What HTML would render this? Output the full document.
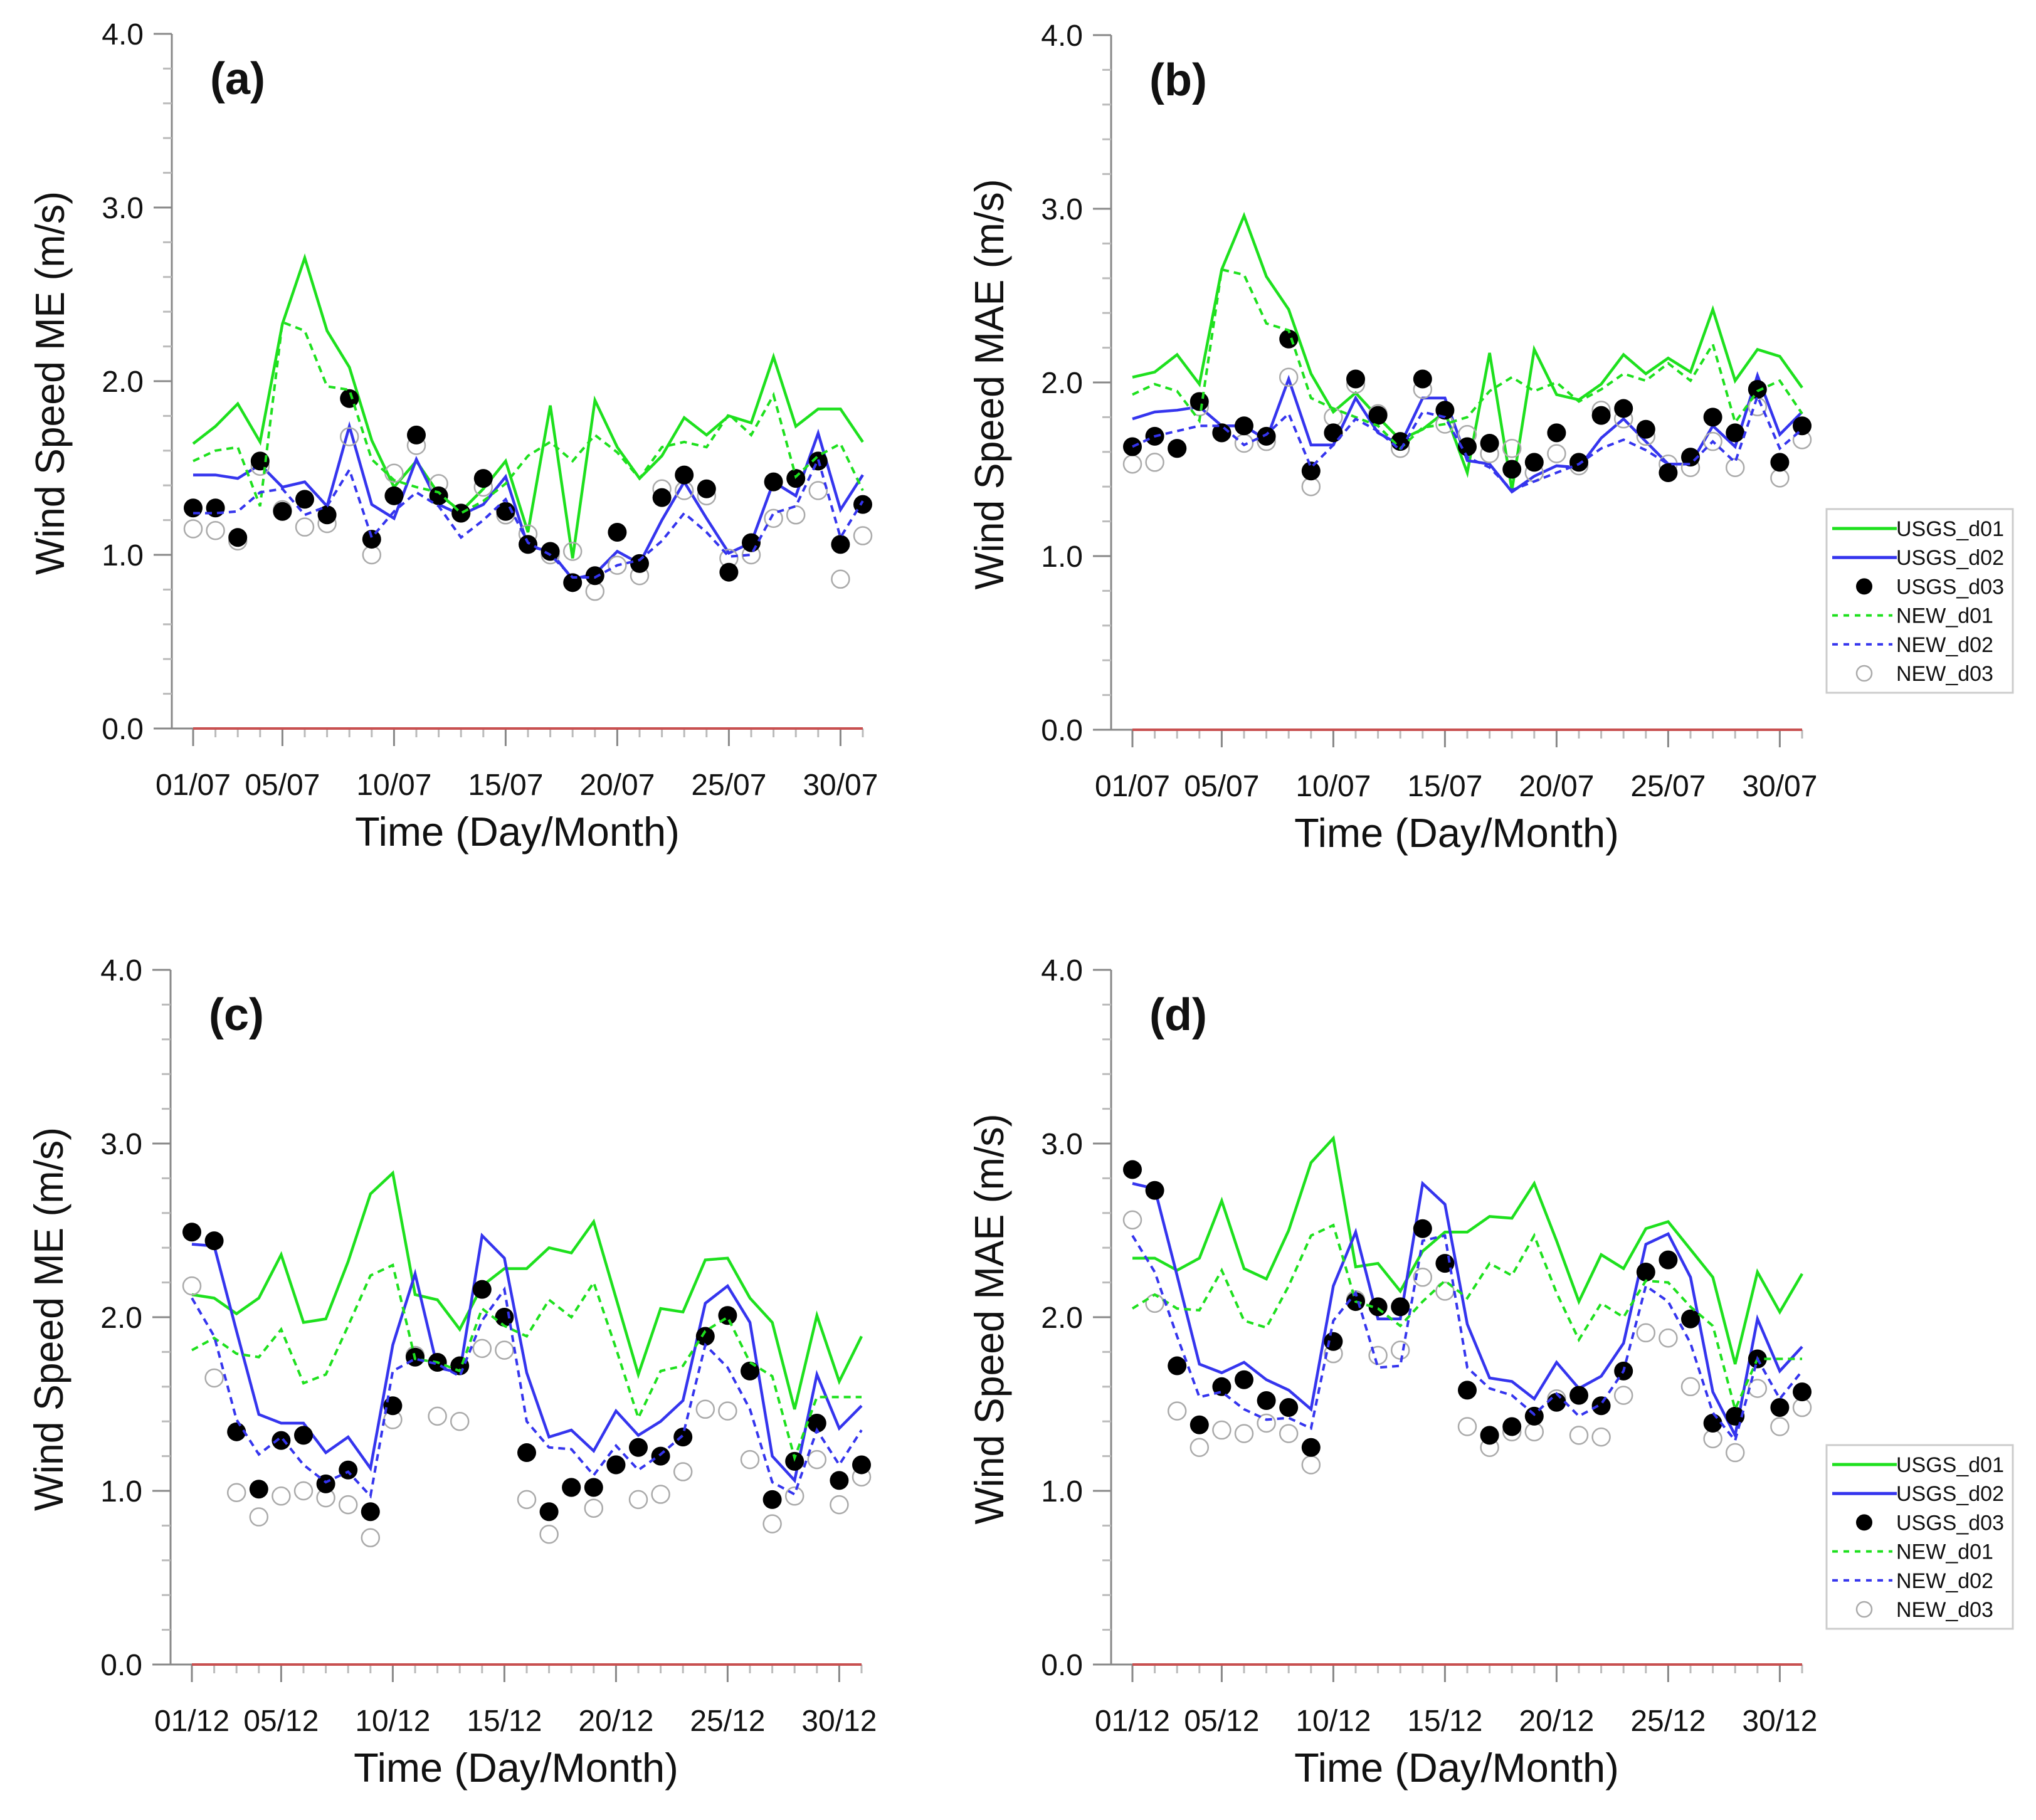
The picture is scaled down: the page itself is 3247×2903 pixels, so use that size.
<!DOCTYPE html>
<html><head><meta charset="utf-8"><style>
html,body{margin:0;padding:0;background:#fff}
svg{display:block}
text{font-family:"Liberation Sans",Arial,sans-serif;fill:#111}
</style></head><body>
<svg id="chart" width="3247" height="2903" viewBox="0 0 3247 2903" xmlns="http://www.w3.org/2000/svg"></svg>
<script>
const days = [1,2,3,4,5,6,7,8,9,10,11,12,13,14,15,16,17,18,19,20,21,22,23,24,25,26,27,28,29,30,31];
const yTicks = [0,1,2,3,4];
const yTickLabels = ["0.0","1.0","2.0","3.0","4.0"];
const xMajorDays = [1,5,10,15,20,25,30];
const seriesNames = ["USGS_d01","USGS_d02","USGS_d03","NEW_d01","NEW_d02","NEW_d03"];

// Panel (a) July ME
const aUsgsD01 = [1.64,1.74,1.87,1.65,2.33,2.71,2.29,2.08,1.66,1.39,1.54,1.35,1.25,1.38,1.54,1.13,1.86,0.98,1.89,1.62,1.44,1.57,1.79,1.69,1.80,1.76,2.14,1.74,1.84,1.84,1.65];
const aUsgsD02 = [1.46,1.46,1.44,1.52,1.39,1.42,1.28,1.74,1.29,1.21,1.55,1.29,1.23,1.29,1.45,1.05,1.02,0.86,0.89,1.02,0.95,1.20,1.42,1.21,1.01,1.07,1.42,1.34,1.70,1.26,1.46];
const aUsgsD03 = [1.27,1.27,1.10,1.54,1.25,1.32,1.23,1.90,1.09,1.34,1.69,1.34,1.24,1.44,1.25,1.06,1.02,0.84,0.88,1.13,0.95,1.33,1.46,1.38,0.90,1.07,1.42,1.44,1.54,1.06,1.29];
const aNewD01 = [1.54,1.60,1.62,1.28,2.34,2.29,1.97,1.95,1.55,1.43,1.39,1.36,1.24,1.31,1.41,1.57,1.65,1.54,1.69,1.59,1.44,1.62,1.65,1.62,1.81,1.69,1.92,1.45,1.57,1.64,1.37];
const aNewD02 = [1.24,1.24,1.25,1.36,1.38,1.23,1.28,1.49,1.10,1.25,1.36,1.28,1.10,1.20,1.32,1.07,1.00,0.87,0.87,0.94,0.97,1.08,1.24,1.13,0.99,1.00,1.24,1.28,1.55,1.10,1.31];
const aNewD03 = [1.15,1.14,1.08,1.51,1.26,1.16,1.18,1.68,1.00,1.47,1.63,1.41,1.24,1.39,1.23,1.12,1.00,1.02,0.79,0.94,0.88,1.38,1.37,1.34,0.98,1.00,1.21,1.23,1.37,0.86,1.11];

// Panel (b) July MAE
const bUsgsD01 = [2.03,2.06,2.16,1.99,2.65,2.96,2.61,2.42,2.05,1.83,1.94,1.80,1.67,1.73,1.83,1.48,2.17,1.38,2.19,1.93,1.90,1.99,2.16,2.05,2.14,2.06,2.42,2.01,2.19,2.15,1.97];
const bUsgsD02 = [1.79,1.83,1.84,1.86,1.75,1.75,1.67,2.02,1.64,1.64,1.91,1.71,1.64,1.91,1.91,1.55,1.53,1.37,1.46,1.52,1.51,1.68,1.79,1.66,1.53,1.53,1.75,1.63,2.04,1.70,1.83];
const bUsgsD03 = [1.63,1.69,1.62,1.89,1.71,1.75,1.69,2.25,1.49,1.71,2.02,1.81,1.66,2.02,1.84,1.63,1.65,1.50,1.54,1.71,1.54,1.81,1.85,1.73,1.48,1.57,1.80,1.71,1.96,1.54,1.75];
const bNewD01 = [1.93,1.99,1.95,1.78,2.65,2.62,2.34,2.30,1.91,1.85,1.80,1.75,1.62,1.74,1.76,1.80,1.95,2.03,1.95,2.00,1.89,1.96,2.05,2.01,2.11,2.01,2.22,1.77,1.95,2.01,1.82];
const bNewD02 = [1.63,1.69,1.72,1.75,1.75,1.64,1.70,1.82,1.51,1.64,1.79,1.72,1.61,1.83,1.80,1.57,1.51,1.38,1.43,1.48,1.53,1.62,1.67,1.61,1.53,1.53,1.66,1.54,1.92,1.62,1.73];
const bNewD03 = [1.53,1.54,1.62,1.86,1.71,1.65,1.66,2.03,1.40,1.80,1.99,1.82,1.62,1.96,1.76,1.70,1.59,1.62,1.48,1.59,1.52,1.84,1.79,1.69,1.53,1.51,1.66,1.51,1.86,1.45,1.67];

// Panel (c) December ME
const cUsgsD01 = [2.13,2.11,2.02,2.11,2.36,1.97,1.99,2.32,2.71,2.83,2.13,2.10,1.93,2.18,2.28,2.28,2.40,2.37,2.55,2.11,1.67,2.05,2.03,2.33,2.34,2.11,1.97,1.47,2.01,1.63,1.89];
const cUsgsD02 = [2.42,2.41,1.92,1.44,1.39,1.39,1.22,1.31,1.13,1.84,2.25,1.71,1.68,2.47,2.34,1.68,1.31,1.35,1.23,1.46,1.32,1.40,1.52,2.08,2.18,1.97,1.20,1.06,1.67,1.36,1.49];
const cUsgsD03 = [2.49,2.44,1.34,1.01,1.29,1.32,1.04,1.12,0.88,1.49,1.77,1.74,1.72,2.16,2.00,1.22,0.88,1.02,1.02,1.15,1.25,1.20,1.31,1.89,2.01,1.69,0.95,1.17,1.39,1.06,1.15];
const cNewD01 = [1.81,1.88,1.79,1.77,1.93,1.62,1.67,1.95,2.24,2.30,1.76,1.74,1.69,2.05,1.95,1.89,2.10,2.00,2.20,1.82,1.42,1.69,1.72,1.92,2.00,1.74,1.66,1.19,1.54,1.54,1.54];
const cNewD02 = [2.11,1.89,1.41,1.21,1.31,1.15,1.05,1.11,0.97,1.69,1.76,1.73,1.66,1.98,2.16,1.40,1.25,1.24,1.09,1.26,1.12,1.21,1.32,1.84,1.71,1.47,1.05,0.98,1.35,1.15,1.35];
const cNewD03 = [2.18,1.65,0.99,0.85,0.97,1.00,0.96,0.92,0.73,1.41,1.78,1.43,1.40,1.82,1.81,0.95,0.75,1.02,0.90,1.15,0.95,0.98,1.11,1.47,1.46,1.18,0.81,0.97,1.18,0.92,1.08];

// Panel (d) December MAE
const dUsgsD01 = [2.34,2.34,2.27,2.34,2.67,2.28,2.22,2.50,2.89,3.03,2.29,2.31,2.15,2.38,2.49,2.49,2.58,2.57,2.77,2.44,2.09,2.36,2.28,2.51,2.55,2.39,2.23,1.73,2.26,2.03,2.25];
const dUsgsD02 = [2.77,2.74,2.24,1.73,1.68,1.74,1.64,1.58,1.47,2.18,2.49,1.99,1.99,2.77,2.65,1.96,1.65,1.63,1.53,1.74,1.59,1.66,1.85,2.42,2.48,2.23,1.57,1.32,1.99,1.69,1.83];
const dUsgsD03 = [2.85,2.73,1.72,1.38,1.60,1.64,1.52,1.48,1.25,1.86,2.09,2.06,2.06,2.51,2.31,1.58,1.32,1.37,1.43,1.51,1.55,1.49,1.69,2.26,2.33,1.99,1.39,1.43,1.76,1.48,1.57];
const dNewD01 = [2.05,2.13,2.05,2.04,2.27,1.98,1.94,2.18,2.47,2.53,2.09,2.05,1.95,2.09,2.21,2.11,2.31,2.24,2.47,2.14,1.87,2.08,2.00,2.21,2.20,2.06,1.95,1.47,1.76,1.76,1.76];
const dNewD02 = [2.47,2.26,1.89,1.54,1.57,1.47,1.41,1.42,1.36,1.98,2.14,1.71,1.72,2.44,2.47,1.71,1.59,1.55,1.44,1.56,1.43,1.50,1.69,2.18,2.09,1.85,1.45,1.29,1.76,1.53,1.69];
const dNewD03 = [2.56,2.08,1.46,1.25,1.35,1.33,1.39,1.33,1.15,1.79,2.10,1.78,1.81,2.23,2.15,1.37,1.25,1.34,1.34,1.53,1.32,1.31,1.55,1.91,1.88,1.60,1.30,1.22,1.59,1.37,1.48];

const NS = "http://www.w3.org/2000/svg";
const svg = document.getElementById("chart");
function mk(tag, parent, attrs) {
  const el = document.createElementNS(NS, tag);
  for (const k in attrs) el.setAttribute(k, attrs[k]);
  parent.appendChild(el);
  return el;
}
const GREEN = "#1ee01e", BLUE = "#3535ee";

function drawPanel(p) {
  const g = mk("g", svg, {});
  
  
  const ax = p.ax, y0 = p.y0, h = 1108, x1 = ax + 34, step = 35.6;
  const xS = d => x1 + (d - 1) * step;
  const yS = v => y0 - v * h / 4;
  const xEnd = xS(31);

  // y axis
  const yAxis = mk("line", g, {x1: ax, y1: yS(4), x2: ax, y2: y0, stroke: "#888", "stroke-width": 3});
  
  
  for (let i = 0; i <= 20; i++) {
    const v = i * 0.2, major = (i % 5 === 0);
    const t = mk("line", g, {x1: ax - (major ? 29 : 14), y1: yS(v), x2: ax, y2: yS(v), stroke: major ? "#888" : "#bbb", "stroke-width": 3});
    
    
  }
  yTicks.forEach((v, i) => {
    const t = mk("text", g, {x: ax - 45, y: yS(v) + 17, "text-anchor": "end", "font-size": 48});
    t.textContent = yTickLabels[i];
    
    
  });
  // x axis
  const xAxis = mk("line", g, {x1: ax - 29, y1: y0, x2: xEnd, y2: y0, stroke: "#888", "stroke-width": 3});
  
  
  days.forEach(d => {
    const major = xMajorDays.indexOf(d) >= 0;
    const t = mk("line", g, {x1: xS(d), y1: y0, x2: xS(d), y2: y0 + (major ? 28 : 14), stroke: major ? "#888" : "#bbb", "stroke-width": 3});
    
    
  });
  xMajorDays.forEach(d => {
    const t = mk("text", g, {x: xS(d), y: y0 + 106, "text-anchor": "middle", "font-size": 48});
    t.textContent = String(d).padStart(2, "0") + "/" + p.month;
    
    
  });
  const zl = mk("line", g, {x1: xS(1), y1: y0, x2: xEnd, y2: y0, stroke: "#c85050", "stroke-width": 4});
  
  

  const xt = mk("text", g, {x: ax + 551, y: y0 + 187, "text-anchor": "middle", "font-size": 65});
  xt.textContent = "Time (Day/Month)";
  
  
  const yc = y0 - 551;
  const yt = mk("text", g, {x: 0, y: 0, "text-anchor": "middle", "font-size": 65, transform: "translate(" + (ax - 172) + "," + yc + ") rotate(-90)", textLength: p.ylen, lengthAdjust: "spacingAndGlyphs"});
  yt.textContent = p.ytitle;
  
  
  const pl = mk("text", g, {x: ax + 61, y: y0 - 1012, "font-size": 72, "font-weight": "bold"});
  pl.textContent = "(" + p.key + ")";
  
  

  function line(vals, color, dash, name) {
    const pts = vals.map((v, i) => xS(days[i]) + "," + yS(v)).join(" ");
    const l = mk("polyline", g, {points: pts, fill: "none", stroke: color, "stroke-width": dash ? 4 : 4.5, "stroke-dasharray": dash ? "11,8" : "none", "stroke-linejoin": "miter"});
    
    
  }
  function dots(vals, filled, name) {
    vals.forEach((v, i) => {
      const c = mk("circle", g, filled ? {cx: xS(days[i]), cy: yS(v), r: 15, fill: "#000"} : {cx: xS(days[i]), cy: yS(v), r: 14, fill: "none", stroke: "#aaa", "stroke-width": 2.5});
      
      
    });
  }
  line(p.s[0], GREEN, false, 'usgs-d01-line');
  line(p.s[1], BLUE, false, 'usgs-d02-line');
  dots(p.s[5], false, 'new-d03-marker');
  dots(p.s[2], true, 'usgs-d03-marker');
  line(p.s[3], GREEN, true, 'new-d01-line');
  line(p.s[4], BLUE, true, 'new-d02-line');

  if (p.legend) {
    const lg = mk("g", svg, {});
    
    
    const lx = 2913, ly = p.legendY;
    mk("rect", lg, {x: lx, y: ly, width: 297, height: 293, fill: "#fff", stroke: "#ccc", "stroke-width": 3});
    seriesNames.forEach((n, i) => {
      const ry = ly + 31 + i * 46.2;
      const e = mk("g", lg, {});
      
      
      if (i === 0 || i === 1) mk("line", e, {x1: lx + 9, y1: ry, x2: lx + 112, y2: ry, stroke: i === 0 ? GREEN : BLUE, "stroke-width": 5});
      if (i === 3 || i === 4) mk("line", e, {x1: lx + 9, y1: ry, x2: lx + 105, y2: ry, stroke: i === 3 ? GREEN : BLUE, "stroke-width": 4, "stroke-dasharray": "9,9"});
      if (i === 2) mk("circle", e, {cx: lx + 60, cy: ry, r: 13, fill: "#000"});
      if (i === 5) mk("circle", e, {cx: lx + 60, cy: ry, r: 12, fill: "none", stroke: "#aaa", "stroke-width": 2.5});
      const t = mk("text", e, {x: lx + 111, y: ry + 12, "font-size": 34, fill: "#222"});
      t.textContent = n;
    });
  }
}

drawPanel({key: "a", ax: 274, y0: 1162, month: "07", ytitle: "Wind Speed ME (m/s)", ylen: 612, s: [aUsgsD01, aUsgsD02, aUsgsD03, aNewD01, aNewD02, aNewD03]});
drawPanel({key: "b", ax: 1772, y0: 1164, month: "07", ytitle: "Wind Speed MAE (m/s)", ylen: 655, s: [bUsgsD01, bUsgsD02, bUsgsD03, bNewD01, bNewD02, bNewD03], legend: true, legendY: 812});
drawPanel({key: "c", ax: 272, y0: 2655, month: "12", ytitle: "Wind Speed ME (m/s)", ylen: 612, s: [cUsgsD01, cUsgsD02, cUsgsD03, cNewD01, cNewD02, cNewD03]});
drawPanel({key: "d", ax: 1772, y0: 2655, month: "12", ytitle: "Wind Speed MAE (m/s)", ylen: 655, s: [dUsgsD01, dUsgsD02, dUsgsD03, dNewD01, dNewD02, dNewD03], legend: true, legendY: 2305});
</script>
</body></html>
